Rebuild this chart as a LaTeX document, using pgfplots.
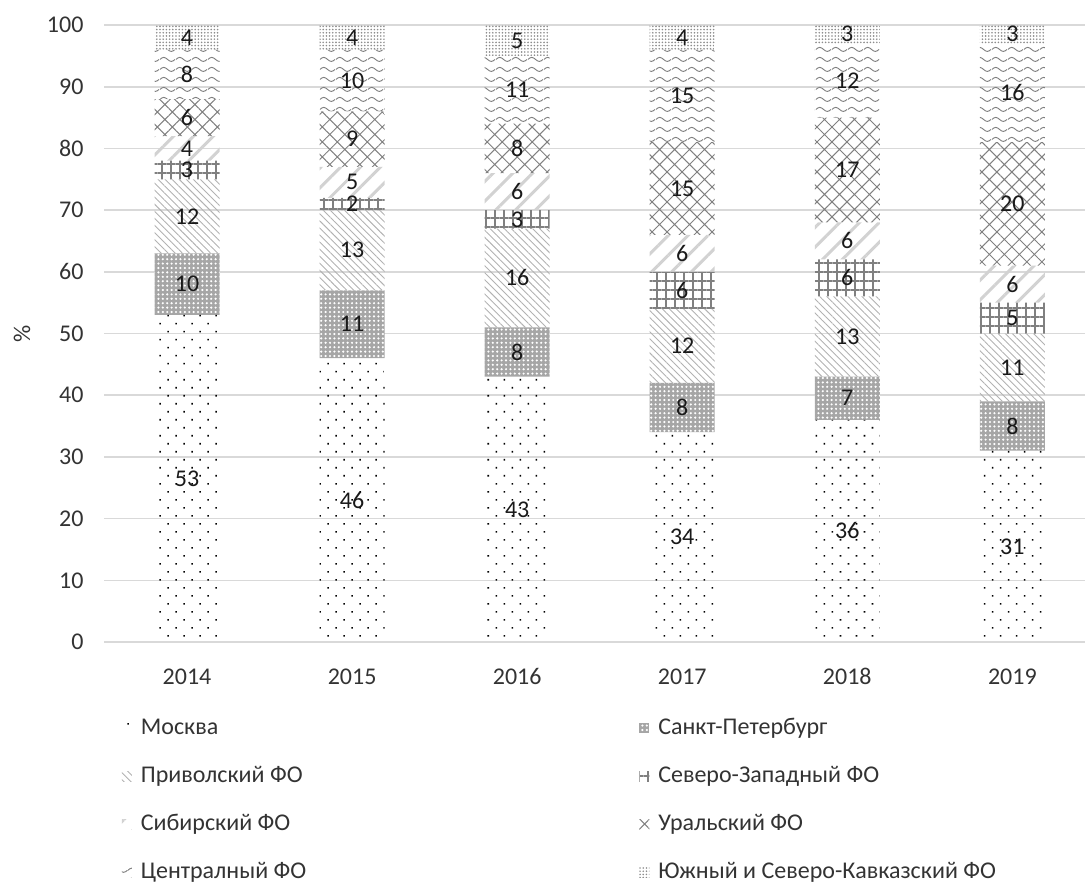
\documentclass[border=0pt]{standalone}
\usepackage{fontspec}
\setmainfont{Carlito}
\usepackage{pgfplots}
\pgfplotsset{compat=1.18}
\usetikzlibrary{patterns,patterns.meta}
\pgfkeys{/pgf/number format/assume math mode=true}

% wavy lines (Центральный ФО)
\tikzdeclarepattern{
  name=waves,
  type=uncolored,
  bounding box={(0pt,0pt) and (8pt,5pt)},
  tile size={(8pt,5pt)},
  code={\draw[line width=0.5pt] (0pt,2.5pt) sin (2pt,3.6pt) cos (4pt,2.5pt) sin (6pt,1.4pt) cos (8pt,2.5pt);}
}

\newcommand{\lbl}{\fontsize{12}{14}\selectfont}

\begin{document}
\begin{tikzpicture}
\useasboundingbox (-52.25pt,-121pt) rectangle (490.25pt,321pt);
\begin{axis}[
  scale only axis, width=490.25pt, height=308.5pt,
  ybar stacked, bar width=32.5pt,
  xmin=-0.5, xmax=5.44, ymin=0, ymax=100,
  xtick={0,...,5}, xticklabels={2014,2015,2016,2017,2018,2019},
  ytick={0,10,...,100},
  ymajorgrids, grid style={gray!30, line width=0.8pt},
  axis line style={draw=none}, major tick length=0pt,
  tick label style={font=\lbl, text=black!80},
  yticklabel style={xshift=-7pt},
  xticklabel style={yshift=-9.5pt, text height=8pt, text depth=0pt},
  ylabel={\%},
  every axis y label/.style={at={(axis description cs:0,0.5)}, xshift=-41.25pt, rotate=90, anchor=center, font=\lbl, text=black!80},
  visualization depends on={rawy \as \rawy},
  nodes near coords={\pgfmathprintnumber{\rawy}},
  every node near coord/.append style={anchor=center, font=\lbl, text=black!90},
  legend columns=2,
  legend cell align=left,
  legend style={draw=none, fill=none, at={(0,0)}, anchor=north west,
    xshift=8.5pt, yshift=-37pt, inner sep=0pt,
    font=\lbl, text=black!80,
    nodes={inner xsep=2pt, inner ysep=0pt, text height=9pt, text depth=3pt},
    row sep=12pt,
    /tikz/every odd column/.append style={column sep=2.5pt},
    /tikz/every even column/.append style={column sep=164.5pt}},
  legend image code/.code={\path[#1, draw=none] (0pt,-2.5pt) rectangle (5pt,2.5pt);},
]
% Москва
\addplot[draw=none, pattern={Dots[angle=45,distance=5.66pt,radius=0.55pt]}, pattern color=black]
  coordinates {(0,53) (1,46) (2,43) (3,34) (4,36) (5,31)};
% Санкт-Петербург
\addplot[draw=none, fill=gray!70, postaction={pattern={Dots[distance=2.2pt,radius=0.6pt]}, pattern color=white}]
  coordinates {(0,10) (1,11) (2,8) (3,8) (4,7) (5,8)};
% Приволский ФО
\addplot[draw=none, pattern={Lines[angle=-45,distance=2.5pt,line width=0.45pt]}, pattern color=gray!60]
  coordinates {(0,12) (1,13) (2,16) (3,12) (4,13) (5,11)};
% Северо-Западный ФО
\addplot[draw=none, pattern={Hatch[angle=0,distance=4.5pt,line width=0.9pt]}, pattern color=gray]
  coordinates {(0,3) (1,2) (2,3) (3,6) (4,6) (5,5)};
% Сибирский ФО
\addplot[draw=none, pattern={Lines[angle=45,distance=7pt,line width=1.5pt]}, pattern color=gray!35]
  coordinates {(0,4) (1,5) (2,6) (3,6) (4,6) (5,6)};
% Уральский ФО
\addplot[draw=none, pattern={Hatch[angle=45,distance=5.3pt,line width=0.5pt]}, pattern color=gray]
  coordinates {(0,6) (1,9) (2,8) (3,15) (4,17) (5,20)};
% Центральный ФО
\addplot[draw=none, pattern=waves, pattern color=gray]
  coordinates {(0,8) (1,10) (2,11) (3,15) (4,12) (5,16)};
% Южный и Северо-Кавказский ФО
\addplot[draw=none, pattern={Dots[distance=1.6pt,radius=0.45pt]}, pattern color=gray!90]
  coordinates {(0,4) (1,4) (2,5) (3,4) (4,3) (5,3)};
\legend{Москва, Санкт-Петербург, Приволский ФО, Северо-Западный ФО,
  Сибирский ФО, Уральский ФО, Централный ФО, Южный и Северо-Кавказский ФО}
\end{axis}
\end{tikzpicture}
\end{document}
